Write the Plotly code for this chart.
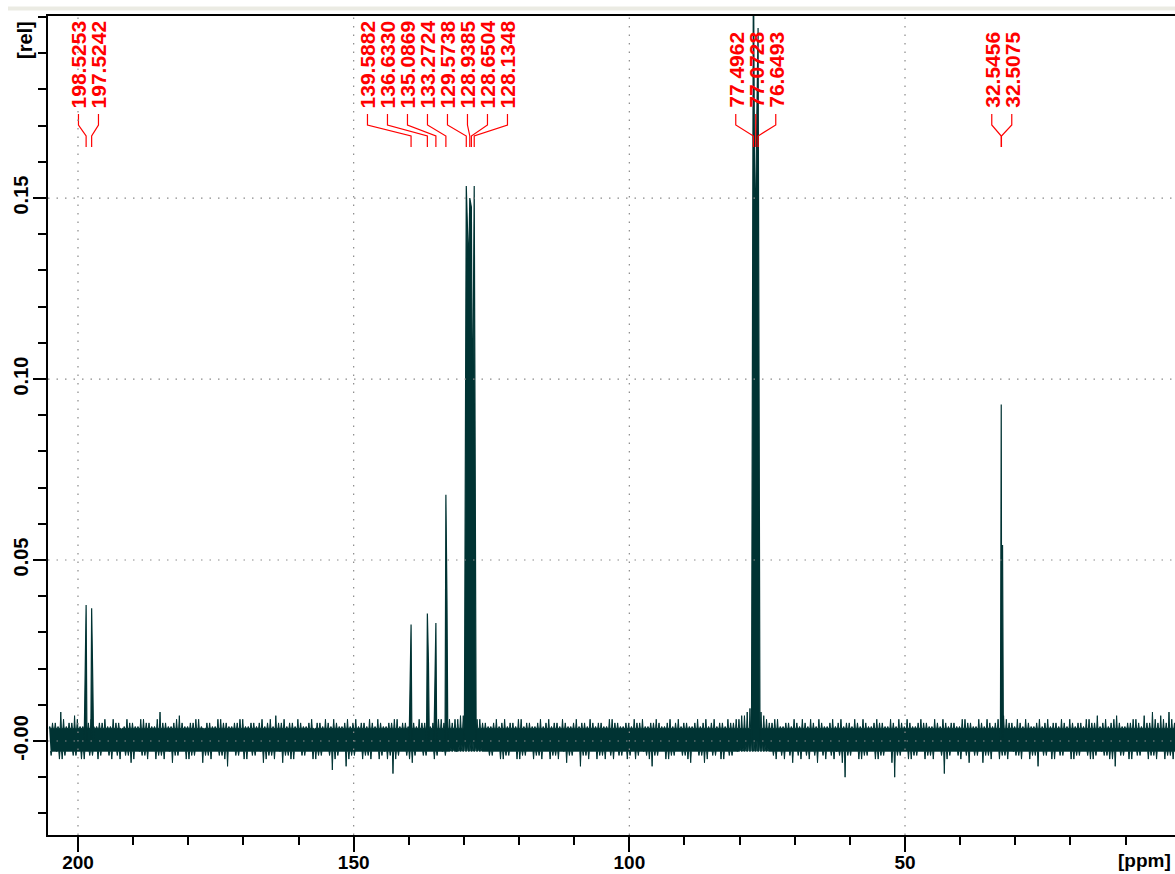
import numpy as np
import plotly.graph_objects as go

# ---------------- data ----------------
# baseline noise envelope (units of 0.001 rel)
# set A: one sample per ppm from 205 down to 1
noise_a_ppm = list(range(205, 0, -1))
noise_a_hi_milli = [
    4, 5, 8, 4, 5, 6, 4, 5, 4, 5,
    6, 4, 5, 3, 6, 5, 4, 6, 5, 4,
    8, 5, 4, 6, 5, 4, 5, 6, 3, 5,
    4, 6, 5, 4, 5, 6, 4, 5, 5, 4,
    6, 7, 5, 4, 5, 6, 4, 5, 3, 5,
    6, 4, 5, 4, 6, 5, 4, 5, 6, 4,
    5, 4, 5, 6, 5, 4, 5, 6, 5, 4,
    5, 6, 5, 5, 6, 7, 7, 7, 6, 5,
    4, 6, 5, 4, 5, 6, 4, 5, 4, 6,
    5, 4, 5, 6, 4, 5, 4, 5, 6, 4,
    5, 4, 6, 5, 4, 5, 6, 5, 4, 5,
    6, 4, 5, 4, 6, 5, 4, 5, 4, 6,
    5, 4, 5, 6, 5, 6, 7, 9, 9, 8,
    6, 5, 6, 4, 5, 6, 4, 5, 6, 4,
    5, 4, 6, 5, 4, 5, 6, 4, 5, 4,
    6, 5, 4, 5, 6, 4, 5, 4, 6, 5,
    4, 5, 6, 4, 5, 4, 6, 5, 4, 5,
    6, 4, 6, 7, 5, 4, 5, 6, 4, 5,
    4, 6, 5, 4, 5, 6, 4, 5, 6, 5,
    7, 5, 4, 6, 5, 4, 5, 6, 4, 5,
    8, 5, 6, 8, 5,
]
noise_a_lo_milli = [
    -4, -3, -5, -3, -4, -3, -5, -4, -3, -4,
    -3, -5, -4, -3, -4, -5, -3, -4, -3, -5,
    -4, -3, -6, -4, -3, -5, -4, -3, -4, -5,
    -3, -4, -7, -3, -4, -5, -3, -4, -3, -5,
    -4, -3, -6, -4, -5, -3, -4, -3, -5, -4,
    -3, -8, -4, -3, -5, -4, -3, -4, -5, -3,
    -4, -5, -9, -4, -3, -5, -4, -3, -4, -3,
    -4, -3, -3, -2, -1, 0, 0, -1, -2, -3,
    -4, -3, -5, -4, -3, -5, -4, -3, -4, -5,
    -3, -4, -5, -3, -4, -3, -7, -4, -3, -5,
    -4, -3, -5, -4, -3, -4, -5, -3, -4, -7,
    -4, -3, -5, -4, -3, -4, -6, -3, -4, -5,
    -4, -3, -5, -4, -3, -2, -1, 1, 1, 0,
    -2, -4, -3, -5, -4, -3, -5, -4, -3, -6,
    -4, -3, -5, -4, -10, -4, -3, -5, -4, -3,
    -5, -4, -3, -10, -4, -3, -5, -4, -3, -4,
    -5, -3, -9, -4, -3, -5, -4, -3, -4, -6,
    -4, -3, -5, -4, -3, -4, -5, -3, -4, -7,
    -4, -3, -5, -4, -3, -5, -4, -3, -4, -5,
    -3, -4, -5, -7, -4, -3, -5, -4, -3, -5,
    -4, -3, -5, -4, -3,
]
# set B: one sample per ppm from 204.5 down to 0.5
noise_b_ppm = [v - 0.5 for v in range(205, 0, -1)]
noise_b_hi_milli = [
    5, 4, 6, 5, 7, 4, 5, 6, 4, 5,
    4, 6, 5, 4, 5, 4, 6, 5, 4, 6,
    5, 4, 5, 7, 4, 5, 6, 4, 5, 4,
    6, 5, 4, 5, 6, 4, 5, 4, 6, 5,
    4, 5, 6, 5, 4, 5, 4, 6, 5, 4,
    5, 6, 4, 5, 4, 6, 5, 4, 5, 6,
    4, 5, 6, 4, 5, 5, 4, 5, 6, 5,
    6, 5, 6, 6, 7, 8, 7, 6, 5, 4,
    5, 4, 6, 5, 4, 6, 5, 4, 5, 4,
    6, 5, 4, 5, 4, 6, 5, 4, 5, 5,
    4, 6, 5, 4, 5, 4, 5, 6, 4, 5,
    5, 4, 6, 5, 4, 5, 4, 6, 5, 4,
    6, 5, 4, 5, 6, 7, 8, 10, 8, 7,
    5, 6, 4, 5, 4, 5, 6, 4, 5, 6,
    4, 5, 4, 6, 5, 4, 5, 6, 4, 5,
    5, 4, 6, 4, 5, 6, 4, 5, 5, 4,
    6, 4, 5, 5, 4, 6, 5, 4, 6, 4,
    5, 5, 4, 6, 5, 6, 4, 5, 4, 6,
    5, 4, 5, 6, 4, 5, 5, 4, 6, 5,
    4, 6, 5, 7, 4, 5, 6, 5, 7, 5,
    6, 7, 5, 6, 8,
]
noise_b_lo_milli = [
    -3, -5, -4, -3, -4, -5, -3, -4, -5, -3,
    -4, -3, -5, -4, -6, -3, -4, -5, -3, -4,
    -5, -3, -4, -3, -5, -4, -3, -6, -4, -3,
    -4, -5, -3, -4, -3, -5, -4, -3, -6, -4,
    -5, -3, -4, -5, -3, -4, -3, -5, -4, -3,
    -4, -5, -3, -7, -4, -3, -5, -4, -3, -5,
    -3, -4, -5, -3, -4, -6, -3, -4, -3, -5,
    -3, -4, -2, -3, -1, -1, 0, -2, -3, -4,
    -3, -5, -4, -3, -5, -4, -3, -5, -4, -3,
    -5, -4, -3, -6, -4, -3, -4, -5, -3, -4,
    -5, -4, -3, -4, -5, -3, -4, -3, -5, -4,
    -3, -5, -4, -3, -4, -5, -3, -4, -6, -3,
    -4, -5, -3, -4, -3, -2, 0, 1, 0, -1,
    -3, -5, -4, -3, -6, -4, -3, -5, -4, -3,
    -5, -4, -3, -6, -4, -3, -5, -4, -3, -5,
    -4, -3, -6, -4, -3, -5, -4, -3, -5, -4,
    -3, -4, -5, -3, -4, -3, -6, -4, -3, -4,
    -5, -3, -4, -5, -3, -4, -3, -5, -4, -3,
    -4, -5, -3, -4, -3, -5, -4, -3, -5, -4,
    -3, -4, -5, -3, -4, -5, -3, -4, -3, -4,
    -5, -3, -4, -5, -3,
]
# solid core of the noise band
noise_core_hi_milli = 3.5
noise_core_lo_milli = -2.8

peak_ppm = [198.5253, 197.5242, 139.5882, 136.6330, 135.0869, 133.2724,
            129.5738, 128.9385, 128.6504, 128.1348,
            77.4962, 77.0728, 76.6493, 32.5456, 32.5075]
peak_apex = [0.0376, 0.0367, 0.0322, 0.0352, 0.0326, 0.0680,
             0.1533, 0.1500, 0.1475, 0.1533,
             0.2200, 0.1510, 0.1970, 0.0930, 0.0540]
peak_shoulder = [0.0210, 0.0170, 0.0146, 0.0215, 0.0144, 0.0384,
                 0.0880, 0.1300, 0.0820, 0.0850,
                 0.1135, 0.1510, 0.1040, 0.0540, 0.0540]
shoulder_side = [1, -1, 1, -1, 1, -1, 1, 1, -1, -1, 1, 1, -1, -1, -1]
peak_group = [0, 0, 1, 1, 1, 1, 1, 1, 1, 1, 2, 2, 2, 3, 3]
peak_labels = ["198.5253", "197.5242", "139.5882", "136.6330", "135.0869", "133.2724",
               "129.5738", "128.9385", "128.6504", "128.1348",
               "77.4962", "77.0728", "76.6493", "32.5456", "32.5075"]

x_tick_vals = [200, 150, 100, 50]
x_tick_text = ["200", "150", "100", "50"]
y_tick_vals = [0.0, 0.05, 0.10, 0.15]
y_tick_text = ["-0.00", "0.05", "0.10", "0.15"]

# ---------------- layout constants ----------------
W, H = 1175, 874
ML, MT, MB, MR = 48, 16, 39, 0
X_RANGE = [205.44, 1.03]
Y_RANGE = [-0.02597, 0.2003]
PX_PER_PPM = (W - ML - MR) / (X_RANGE[0] - X_RANGE[1])
PX_PER_REL = (H - MT - MB) / (Y_RANGE[1] - Y_RANGE[0])
label_group_centers = [198.1, 134.8, 77.07, 32.45]
label_spacing_ppm = 20 / PX_PER_PPM
SHOULDER_OFFSET = 0.2
FOOT_OFFSET = 0.15
SPIKE_HALF = 0.11
LINE_COLOR = "#003333"
FONT = "Liberation Sans, Arial, sans-serif"


def y_at_px(py):
    """convert a pixel row (from the top of the figure) to a data y value"""
    return Y_RANGE[1] - (py - MT) / PX_PER_REL


fig = go.Figure()

# ---------------- baseline noise band (comb of spikes on a solid core) ----------------
hi_samples = sorted(list(zip(noise_a_ppm, noise_a_hi_milli)) +
                    list(zip(noise_b_ppm, noise_b_hi_milli)), key=lambda t: -t[0])
lo_samples = sorted(list(zip(noise_a_ppm, noise_a_lo_milli)) +
                    list(zip(noise_b_ppm, noise_b_lo_milli)), key=lambda t: -t[0])
core_hi = noise_core_hi_milli / 1000.0
core_lo = noise_core_lo_milli / 1000.0
upper = []
for q, v in hi_samples:
    s = q + 0.12
    upper += [(s + SPIKE_HALF, core_hi), (s, v / 1000.0), (s - SPIKE_HALF, core_hi)]
lower = []
for q, v in lo_samples:
    s = q - 0.13
    lower += [(s + SPIKE_HALF, core_lo), (s, v / 1000.0), (s - SPIKE_HALF, core_lo)]
band = upper + lower[::-1]
fig.add_trace(go.Scatter(x=[p[0] for p in band], y=[p[1] for p in band],
                         mode="lines", fill="toself", fillcolor=LINE_COLOR,
                         line=dict(color=LINE_COLOR, width=1),
                         hoverinfo="skip", showlegend=False))

# ---------------- peaks (clustered polygons) ----------------
pk_pts = []
for p, a, s, sd in zip(peak_ppm, peak_apex, peak_shoulder, shoulder_side):
    pk_pts.append((p, a))
    pk_pts.append((p + sd * SHOULDER_OFFSET, s))
pk_pts.sort(key=lambda t: -t[0])
clusters = [[pk_pts[0]]]
for pt in pk_pts[1:]:
    if clusters[-1][-1][0] - pt[0] < 0.8:
        clusters[-1].append(pt)
    else:
        clusters.append([pt])
px_, py_ = [], []
for cl in clusters:
    px_ += [cl[0][0] + FOOT_OFFSET] + [q[0] for q in cl] + [cl[-1][0] - FOOT_OFFSET, None]
    py_ += [0.0] + [q[1] for q in cl] + [0.0, None]
fig.add_trace(go.Scatter(x=px_, y=py_, mode="lines", fill="toself",
                         fillcolor=LINE_COLOR, line=dict(color=LINE_COLOR, width=1.2),
                         hoverinfo="skip", showlegend=False))

# ---------------- peak labels + connectors ----------------
shapes = []
annotations = []
group_members = {}
for i, g in enumerate(peak_group):
    group_members.setdefault(g, []).append(i)

y1, y2, y3, y4 = y_at_px(114), y_at_px(125), y_at_px(136), y_at_px(147)
for g, members in group_members.items():
    n = len(members)
    for k, i in enumerate(members):
        lx = label_group_centers[g] + ((n - 1) / 2 - k) * label_spacing_ppm
        annotations.append(dict(
            x=lx, y=y_at_px(110), xref="x", yref="y", text=peak_labels[i],
            textangle=-90, showarrow=False, xanchor="center", yanchor="bottom",
            font=dict(family=FONT, size=21, color="#ff0000", weight="bold")))
        p = peak_ppm[i]
        shapes.append(dict(
            type="path", xref="x", yref="y",
            path=f"M {lx},{y1} L {lx},{y2} L {p},{y3} L {p},{y4}",
            line=dict(color="#ff0000", width=1.2), layer="above"))

# dotted grid lines drawn above the data
GRID = dict(color="#8a8a8a", width=1.2, dash="1.5px,7px")
for xv in x_tick_vals:
    shapes.append(dict(type="line", xref="x", yref="paper", x0=xv, x1=xv,
                       y0=0, y1=1, line=GRID, layer="above"))
for yv in y_tick_vals:
    shapes.append(dict(type="line", xref="paper", yref="y", x0=0, x1=1,
                       y0=yv, y1=yv, line=GRID, layer="above"))

# light toolbar strip at the very top
shapes.append(dict(type="rect", xref="paper", yref="paper",
                   x0=(8 - ML) / (W - ML - MR), x1=1.0,
                   y0=(H - MB - 10.5) / (H - MT - MB), y1=(H - MB - 6.5) / (H - MT - MB),
                   fillcolor="#ebebe3", line=dict(width=0), layer="above"))

annotations.append(dict(
    x=(25 - ML) / (W - ML - MR), y=(H - MB - 19) / (H - MT - MB),
    xref="paper", yref="paper", text="[rel]", textangle=-90, showarrow=False,
    xanchor="center", yanchor="top",
    font=dict(family=FONT, size=20, color="black", weight="bold")))
annotations.append(dict(
    x=(1116 - ML) / (W - ML - MR), y=(H - MB - 861) / (H - MT - MB),
    xref="paper", yref="paper", text="[ppm]", showarrow=False,
    xanchor="left", yanchor="middle",
    font=dict(family=FONT, size=19, color="black", weight="bold")))

xtickfont = dict(family=FONT, size=19, color="black", weight="bold")
ytickfont = dict(family=FONT, size=20, color="black", weight="bold")
fig.update_layout(
    width=W, height=H,
    margin=dict(l=ML, r=MR, t=MT, b=MB, pad=0, autoexpand=False),
    paper_bgcolor="white", plot_bgcolor="white",
    showlegend=False,
    shapes=shapes, annotations=annotations,
    xaxis=dict(range=X_RANGE, tickvals=x_tick_vals, ticktext=x_tick_text,
               automargin=False,
               ticks="outside", ticklen=15, tickwidth=2, tickcolor="black",
               ticklabelstandoff=-6,
               showline=True, mirror=True, linewidth=2, linecolor="black",
               showgrid=False, zeroline=False, tickfont=xtickfont,
               minor=dict(dtick=10, tick0=0, ticks="outside", ticklen=8,
                          tickwidth=2, tickcolor="black", showgrid=False)),
    yaxis=dict(range=Y_RANGE, tickvals=y_tick_vals, ticktext=y_tick_text,
               automargin=False,
               tickangle=-90, ticks="outside", ticklen=13, tickwidth=2,
               ticklabelstandoff=-3,
               tickcolor="black", showline=True, linewidth=2, linecolor="black",
               showgrid=False, zeroline=False, tickfont=ytickfont,
               minor=dict(dtick=0.01, tick0=0, ticks="outside", ticklen=8,
                          tickwidth=2, tickcolor="black", showgrid=False)),
)

fig.write_html("out.html", config={"displayModeBar": False},
               post_script="document.body.style.margin='0';document.body.style.overflow='hidden';")
